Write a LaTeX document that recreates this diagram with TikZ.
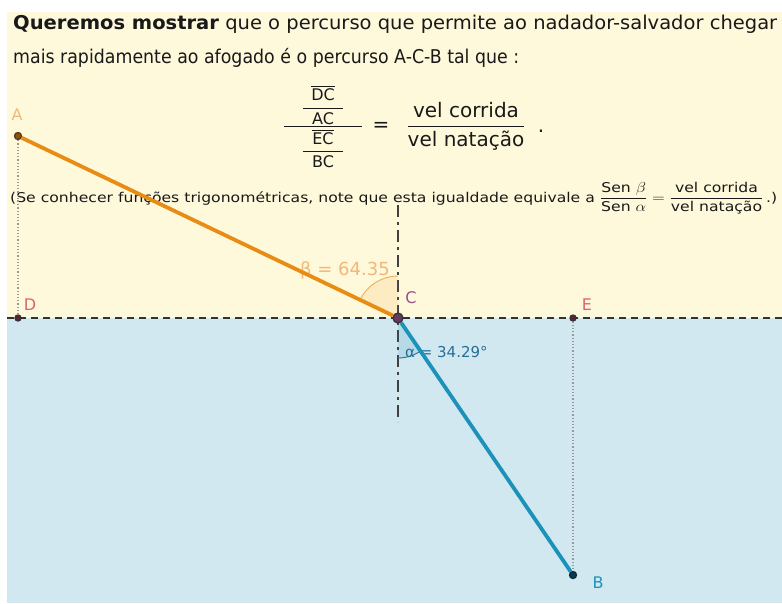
\documentclass[tikz,border=0pt]{standalone}
\usepackage{fontspec}
\usepackage{amsmath}
\usepackage{graphicx}
\setmainfont{DejaVu Sans}
\definecolor{cream}{RGB}{255,249,220}
\definecolor{water}{RGB}{210,232,240}
\definecolor{runline}{RGB}{232,140,20}
\definecolor{swimline}{RGB}{28,146,186}
\definecolor{betacol}{RGB}{242,184,120}
\definecolor{alphacol}{RGB}{40,110,150}
\definecolor{ptred}{RGB}{224,96,110}
\definecolor{ptpurple}{RGB}{150,80,140}
\definecolor{txt}{RGB}{25,25,25}
\newsavebox\fitbox
\newcommand\fitto[2]{\sbox\fitbox{#2}\dimen0=\wd\fitbox\pgfmathsetmacro\fitratio{#1/\the\dimen0}\scalebox{\fitratio}[1]{\usebox\fitbox}}
\begin{document}
\begin{tikzpicture}[x=1pt,y=-1pt,
  ptmark/.style={circle,draw=#1,line width=1.3pt,inner sep=0pt,minimum size=7pt},
  ptlabel/.style={font=\fontsize{16}{16}\selectfont},
  runseg/.style={runline,line width=3.8pt},
  swimseg/.style={swimline,line width=3.8pt},
  guide/.style={gray!80,line width=1.2pt,dotted},
  shore/.style={black!80,line width=2pt,dash pattern=on 7pt off 5pt},
  normal/.style={black!75,line width=1.8pt,dash pattern=on 12pt off 5pt on 3pt off 5pt},
  txtline/.style={anchor=base west,text=txt,inner sep=0pt,font=\fontsize{19}{19}\selectfont}]
\useasboundingbox (0,0) rectangle (782,603);
\fill[white] (0,0) rectangle (782,603);
\fill[cream] (7,12) rectangle (782,318);
\fill[water] (7,318) rectangle (782,603);

% text
\node[txtline] (l1) at (13,29) {\fitto{764}{\textbf{Queremos mostrar} que o percurso que permite ao nadador-salvador chegar}};
\node[txtline] (l2) at (13,63) {\fitto{506}{mais rapidamente ao afogado é o percurso A-C-B tal que :}};

\node[anchor=base,text=txt,inner sep=0pt,font=\fontsize{16}{16}\selectfont] (fl) at (323,131)
  {$\dfrac{\hspace{18pt}\dfrac{\makebox[40pt]{$\overline{\text{DC}}$}}{\text{AC}}\hspace{18pt}}{\dfrac{\makebox[40pt]{$\overline{\text{EC}}$}}{\text{BC}}}$};
\node[text=txt,inner sep=0pt,font=\fontsize{20}{20}\selectfont] (eq) at (381,127) {=};
\node[anchor=base,text=txt,inner sep=0pt,font=\fontsize{20}{20}\selectfont] (fr) at (466,132)
  {$\dfrac{\text{vel corrida}}{\text{vel natação}}$};
\node[text=txt,inner sep=0pt,font=\fontsize{20}{20}\selectfont] (dot) at (541,131) {.};

\node[anchor=base west,text=txt,inner sep=0pt,font=\fontsize{13.5}{13.5}\selectfont] (l3) at (10,202)
  {\fitto{767}{(Se conhecer funções trigonométricas, note que esta igualdade equivale a $\dfrac{\text{Sen }\beta}{\text{Sen }\alpha}=\dfrac{\text{vel corrida}}{\text{vel natação}}$\,.)}};

% guide lines
\coordinate (hl) at (7,318);
\coordinate (hr) at (782,318);
\coordinate (vt) at (398,205);
\coordinate (vb) at (398,422);
\draw[shore] (hl) -- (hr);
\draw[normal] (vt) -- (vb);

% angles
\coordinate (Cc) at (398,318);
\fill[runline,opacity=.12] (Cc) -- ++(-90:42) arc[start angle=-90,end angle=-154.5,radius=42] -- cycle;
\draw[runline!70,line width=0.9pt] (Cc) ++(-90:42) arc[start angle=-90,end angle=-154.5,radius=42];
\fill[swimline,opacity=.15] (Cc) -- ++(90:40) arc[start angle=90,end angle=55.9,radius=40] -- cycle;
\draw[alphacol,line width=0.9pt] (Cc) ++(90:40) arc[start angle=90,end angle=55.9,radius=40];
\node[anchor=base west,text=betacol,inner sep=0pt,font=\fontsize{18}{18}\selectfont] (bl) at (300,275) {β = 64.35};
\node[anchor=base west,text=alphacol,inner sep=0pt,font=\fontsize{15}{15}\selectfont] (al) at (405,357) {α = 34.29°};

% points
\node[ptmark=runline!40!black,fill=runline!60!black] (A) at (18,136) {};
\node[ptmark=black!80,fill=ptred!40!black,minimum size=6pt] (D) at (18,318) {};
\node[ptmark=black!80,fill=ptpurple!70!black,minimum size=10pt] (C) at (398,318) {};
\node[ptmark=black!80,fill=ptred!40!black,minimum size=6pt] (E) at (573,318) {};
\node[ptmark=swimline!30!black,fill=swimline!40!black] (B) at (573,575) {};

% connectors
\draw[guide] (A) -- (D);
\draw[guide] (E) -- (B);
\draw[runseg] (A) -- (C);
\draw[swimseg] (C) -- (B);

% point labels
\node[ptlabel,text=betacol] (lA) at (17,115) {A};
\node[ptlabel,text=ptred] (lD) at (30,305) {D};
\node[ptlabel,text=ptpurple] (lC) at (411,298) {C};
\node[ptlabel,text=ptred] (lE) at (587,305) {E};
\node[ptlabel,text=swimline] (lB) at (598,583) {B};
\end{tikzpicture}
\end{document}
